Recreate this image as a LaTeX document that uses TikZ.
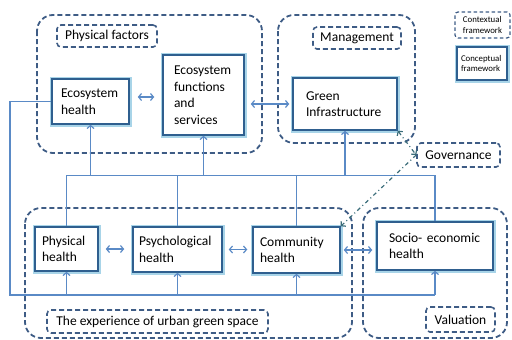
\documentclass[tikz,border=0pt]{standalone}
\usepackage{fontspec}
\setmainfont{Carlito}
\usepackage[dvipsnames,svgnames]{xcolor}
\usetikzlibrary{arrows.meta}

\definecolor{framecol}{HTML}{3E5C85}
\definecolor{linkcol}{HTML}{5A8AC6}
\definecolor{boxcol}{HTML}{2F5F8F}
\definecolor{glowcol}{HTML}{A8D4E8}
\definecolor{govcol}{HTML}{3B6D7A}

\begin{document}
\begin{tikzpicture}[x=1pt,y=-1pt,>={Straight Barb[length=3pt,width=7pt]},
  frame/.style={draw=framecol,line width=1.8pt,dash pattern=on 5pt off 3pt,rounded corners=16pt},
  tag/.style={draw=framecol,line width=1.6pt,dash pattern=on 5pt off 3pt,rounded corners=4pt,inner sep=0pt,font=\fontsize{13.5}{16.5}\selectfont},
  concept/.style={draw=boxcol,line width=1.5pt,fill=white,preaction={draw=glowcol,line width=5pt},align=left,inner sep=0pt,font=\fontsize{13.5}{16.5}\selectfont},
  link/.style={draw=linkcol,line width=1.2pt},
  gov/.style={draw=govcol,line width=1.2pt,dash pattern=on 4pt off 3pt on 1pt off 3pt}]

\useasboundingbox (0,0) rectangle (512,340);

% contextual frames
\draw[frame] (37,15) rectangle (262,153);
\draw[frame] (278,15) rectangle (415,143);
\draw[frame] (25,208) rectangle (352,338);
\draw[frame] (363,208) rectangle (507,338);

\node[tag,minimum width=100,minimum height=22] (pfac) at (107,36) {Physical factors};
\node[tag,minimum width=88,minimum height=22] (mgmt) at (357,38) {Management};
\node[tag,minimum width=83,minimum height=24,fill=white] (govn) at (458.5,155) {Governance};
\node[tag,minimum width=221,minimum height=23] (exper) at (157.5,321.5) {The experience of urban green space};
\node[tag,minimum width=69,minimum height=25] (valu) at (460.5,319.5) {Valuation};

% conceptual boxes
\node[concept,minimum width=77,minimum height=45,text width=59] (ehealth) at (90.5,101.5) {Ecosystem\\health};
\node[concept,minimum width=81,minimum height=80,text width=59] (efunc) at (203.5,95) {Ecosystem\\functions\\and\\services};
\node[concept,minimum width=104,minimum height=52,text width=78] (ginfra) at (345,104) {Green\\Infrastructure};
\node[concept,minimum width=63,minimum height=44,text width=49] (phealth) at (66.5,249) {Physical\\health};
\node[concept,minimum width=89,minimum height=45,text width=77] (pshealth) at (177.5,249.5) {Psychological\\health};
\node[concept,minimum width=87,minimum height=46,text width=73] (chealth) at (296.5,250) {Community\\health};
\node[concept,minimum width=116,minimum height=48,text width=92] (sehealth) at (435,246) {Socio- economic\\health};

% legend
\node[tag,line width=1.2pt,dash pattern=on 3.5pt off 2.5pt,rounded corners=3pt,minimum width=55,minimum height=26,align=left,font=\fontsize{8.8}{10.5}\selectfont] (ctxleg) at (482.5,25) {Contextual\\framework};
\node[concept,minimum width=50,minimum height=33,text width=42,font=\fontsize{8.8}{10.5}\selectfont] (conleg) at (482,63.5) {Conceptual\\framework};

% upper bus
\draw[link] (phealth.north) -- ++(0,-51) coordinate (busT) -| (sehealth.north);
\draw[link] (pshealth.north) -- (pshealth.north |- busT);
\draw[link] (chealth.north) -- (chealth.north |- busT);
\draw[link,->] (busT -| ehealth.south) -- (ehealth.south);
\draw[link,->] (busT -| efunc.south) -- (efunc.south);
\draw[link,->] (busT -| ginfra.south) -- (ginfra.south);

% lower bus
\coordinate (busB) at (10,295);
\draw[link] (ehealth.west) -| (busB) -- (busB -| sehealth.south);
\draw[link,->] (busB -| phealth.south) -- (phealth.south);
\draw[link,->] (busB -| pshealth.south) -- (pshealth.south);
\draw[link,->] (busB -| chealth.south) -- (chealth.south);
\draw[link,->] (busB -| sehealth.south) -- (sehealth.south);

% two-way links
\draw[link,<->,shorten <=8pt,shorten >=8pt,transform canvas={yshift=4.5pt}] (ehealth.east) -- (ehealth.east -| efunc.west);
\draw[link,<->,shorten <=6pt,shorten >=3pt] (efunc.east |- ginfra.west) -- (ginfra.west);
\draw[link,<->,shorten <=7pt,shorten >=8pt] (phealth.east) -- (phealth.east -| pshealth.west);
\draw[link,<->,shorten <=6pt,shorten >=5pt] (pshealth.east) -- (pshealth.east -| chealth.west);
\draw[link,<->,shorten <=3pt,shorten >=4pt] (chealth.east) -- (chealth.east -| sehealth.west);

% governance
\draw[gov,<->] (ginfra.south east) -- (govn.west);
\draw[gov,->] (govn.west) -- (chealth.north east);

\end{tikzpicture}
\end{document}
